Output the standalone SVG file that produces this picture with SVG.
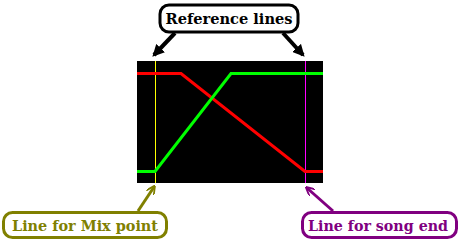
<svg xmlns="http://www.w3.org/2000/svg" width="461" height="240" viewBox="0 0 461 240">
<style>
.lbl{font-family:"DejaVu Serif","Liberation Serif",serif;font-weight:bold;font-size:15px;text-anchor:middle}
.box{fill:#fff;stroke-width:3}
.arr{stroke-width:4;fill:none}
</style>
<defs>
<marker id="hk" viewBox="0 0 10 10" refX="8" refY="5" markerWidth="3" markerHeight="3" orient="auto" markerUnits="strokeWidth"><path d="M0,0L10,5L0,10Z" fill="#000"/></marker>
<marker id="ho" viewBox="0 0 10 10" refX="8" refY="5" markerWidth="3" markerHeight="3" orient="auto" markerUnits="strokeWidth"><path d="M0,0L10,5L0,10" fill="none" stroke="#808000" stroke-width="2"/></marker>
<marker id="hp" viewBox="0 0 10 10" refX="8" refY="5" markerWidth="3" markerHeight="3" orient="auto" markerUnits="strokeWidth"><path d="M0,0L10,5L0,10" fill="none" stroke="#800080" stroke-width="2"/></marker>
</defs>
<g id="graph">
<rect x="137" y="61" width="186" height="122" fill="#000"/>
<line x1="155.5" y1="61" x2="155.5" y2="183" stroke="#ffff00" stroke-width="1"/>
<line x1="305.5" y1="61" x2="305.5" y2="183" stroke="#ff00ff" stroke-width="1"/>
<polyline points="137,73.5 181,73.5 305,171.5 323,171.5" fill="none" stroke="#ff0000" stroke-width="3"/>
<polyline points="137,171.5 155,171.5 231,73.5 323,73.5" fill="none" stroke="#00ff00" stroke-width="3"/>
</g>
<g id="connectors">
<line class="arr" x1="175" y1="33" x2="154" y2="55" stroke="#000" marker-end="url(#hk)"/>
<line class="arr" x1="283" y1="33" x2="303" y2="55" stroke="#000" marker-end="url(#hk)"/>
<line x1="138" y1="211" x2="154" y2="187" stroke="#808000" stroke-width="3" marker-end="url(#ho)"/>
<line x1="333" y1="211" x2="307" y2="188" stroke="#800080" stroke-width="3" marker-end="url(#hp)"/>
</g>
<g id="ref">
<rect class="box" x="160" y="5" width="138" height="27" rx="9" stroke="#000"/>
<text class="lbl" x="229" y="24" fill="#000" textLength="127" lengthAdjust="spacingAndGlyphs">Reference lines</text>
</g>
<g id="mix">
<rect class="box" x="3.5" y="212.5" width="163" height="25" rx="9" stroke="#808000"/>
<text class="lbl" x="85" y="231" fill="#808000" textLength="146" lengthAdjust="spacingAndGlyphs">Line for Mix point</text>
</g>
<g id="end">
<rect class="box" x="302.5" y="212.5" width="154" height="25" rx="9" stroke="#800080"/>
<text class="lbl" x="378" y="231" fill="#800080" textLength="140" lengthAdjust="spacingAndGlyphs">Line for song end</text>
</g>
</svg>
